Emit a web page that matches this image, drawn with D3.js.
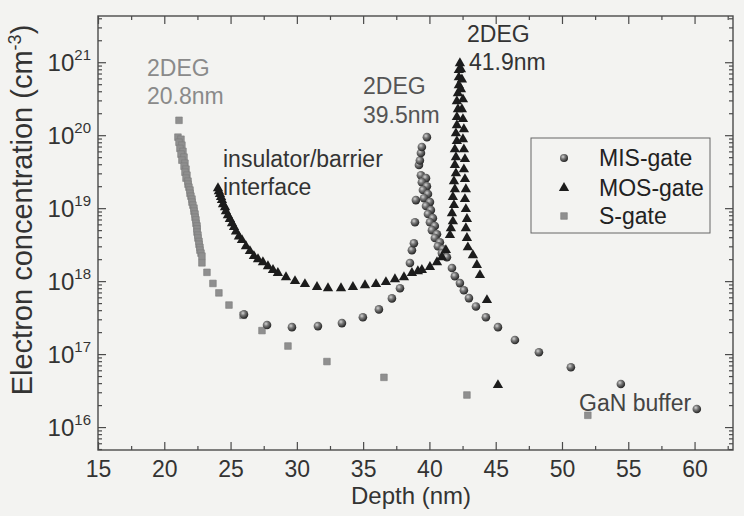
<!DOCTYPE html>
<html><head><meta charset="utf-8">
<script src="https://cdn.jsdelivr.net/npm/d3@7"></script>
<style>
body{margin:0;background:#f3f3f1;}
svg{display:block;font-family:"Liberation Sans",Arial,Helvetica,sans-serif;}
</style>
</head><body>
<svg id="c" width="744" height="516"></svg>
<script>
// ---------------- data ----------------
const seriesNames = ["MIS-gate", "MOS-gate", "S-gate"];

const misDepth = [26.01,27.75,29.63,31.59,33.40,34.98,36.19,37.17,37.78,38.53,38.68,38.83,38.91,38.98,39.21,39.28,39.36,39.43,39.81,
  39.36,39.74,39.43,39.81,39.51,39.89,39.59,40.04,39.74,40.11,39.89,40.26,40.04,40.41,40.19,40.57,40.41,40.79,40.64,41.02,40.94,41.32,
  41.70,41.92,42.30,42.60,42.98,43.51,44.26,45.17,46.45,48.26,50.67,54.44,60.17];
const misConc = [3.5e17,2.5e17,2.34e17,2.42e17,2.66e17,3.2e17,4.1e17,5.8e17,8.0e17,1.77e18,2.66e18,3.3e18,6.4e18,1.29e19,3.9e19,4.5e19,5.7e19,6.9e19,9.4e19,
  2.83e19,2.58e19,2.27e19,2.0e19,1.77e19,1.56e19,1.37e19,1.21e19,1.07e19,9.4e18,8.3e18,7.3e18,6.4e18,5.7e18,5.0e18,4.4e18,3.9e18,3.4e18,3.0e18,2.74e18,2.42e18,2.13e18,
  1.51e18,1.17e18,9.4e17,7.5e17,5.85e17,4.5e17,3.2e17,2.34e17,1.56e17,1.06e17,6.6e16,3.9e16,1.77e16];

const mosDepth = [24.05,24.12,24.20,24.28,24.35,24.43,24.58,24.65,24.80,24.95,25.11,25.26,25.41,25.63,25.86,26.16,26.46,26.76,27.07,27.44,27.82,28.20,28.57,29.18,29.86,
  30.61,31.52,32.35,33.33,34.23,35.14,35.97,36.72,37.40,38.08,38.68,39.13,39.43,40.04,40.57,40.94,41.24,
  41.55,41.62,41.77,41.70,41.85,41.77,41.92,41.85,42.00,41.92,42.00,41.92,42.07,42.00,42.07,42.07,42.15,42.07,42.15,42.22,42.22,42.22,42.30,
  42.38,42.45,42.38,42.53,42.45,42.53,42.60,42.53,42.60,42.68,42.60,42.68,42.75,42.68,42.75,42.83,42.75,
  42.83,42.90,43.28,43.58,43.81,44.34,45.17];
const mosConc = [1.88e19,1.71e19,1.56e19,1.42e19,1.29e19,1.13e19,1.03e19,9.1e18,8.0e18,7.1e18,6.2e18,5.5e18,4.8e18,4.1e18,3.65e18,3.0e18,2.58e18,2.2e18,2.0e18,1.82e18,1.6e18,1.42e18,1.29e18,1.13e18,1.0e18,
  9.1e17,8.3e17,8.0e17,8.0e17,8.3e17,8.8e17,9.1e17,9.7e17,1.06e18,1.13e18,1.29e18,1.37e18,1.42e18,1.56e18,1.82e18,2.13e18,2.66e18,
  4.27e18,5.3e18,6.6e18,8.5e18,1.10e19,1.42e19,1.82e19,2.34e19,3.0e19,3.9e19,5.0e19,6.4e19,8.3e19,1.06e20,1.37e20,1.77e20,2.27e20,2.92e20,3.76e20,4.84e20,6.2e20,7.8e20,9.7e20,
  8.0e20,5.8e20,4.27e20,3.1e20,2.27e20,1.66e20,1.21e20,8.8e19,6.4e19,4.7e19,3.4e19,2.5e19,1.82e19,1.33e19,9.7e18,7.1e18,5.3e18,
  3.9e18,2.9e18,2.27e18,1.66e18,1.21e18,5.5e17,3.76e16];

const sDepth = [21.11,21.03,21.26,21.11,21.33,21.18,21.41,21.26,21.49,21.33,21.56,21.49,21.64,21.56,21.71,21.64,21.79,21.79,21.86,21.94,21.94,22.01,22.09,22.09,22.16,22.24,
  22.24,22.32,22.32,22.39,22.39,22.47,22.47,22.47,22.54,22.54,22.62,22.62,22.69,22.69,22.77,22.84,
  22.84,23.22,23.67,24.12,24.88,25.94,27.37,29.33,32.27,36.57,42.83,51.95];
const sConc = [1.6e20,9.4e19,8.8e19,8.0e19,7.3e19,6.6e19,6.0e19,5.5e19,5.0e19,4.55e19,4.13e19,3.76e19,3.42e19,3.11e19,2.83e19,2.58e19,2.34e19,2.13e19,1.94e19,1.77e19,1.60e19,1.46e19,1.33e19,1.21e19,1.10e19,1.0e19,
  9.1e18,8.3e18,7.5e18,6.9e18,6.2e18,5.7e18,5.2e18,4.7e18,4.27e18,3.9e18,3.5e18,3.2e18,2.9e18,2.66e18,2.42e18,2.2e18,
  1.78e18,1.32e18,9.3e17,6.9e17,4.7e17,3.4e17,2.1e17,1.29e17,7.9e16,4.8e16,2.75e16,1.45e16];

const xTicks = [15,20,25,30,35,40,45,50,55,60];
const yTickExps = [16,17,18,19,20,21];

// ---------------- layout ----------------
const L = 98, R = 733, T = 16, B = 450;
const svg = d3.select("#c");
const x = d3.scaleLinear().domain([15, 62.9]).range([L, R]);
const y = d3.scaleLog().domain([4.85e15, 4.3e21]).range([B, T]);

const defs = svg.append("defs");
const grad = defs.append("radialGradient").attr("id","ball").attr("cx","38%").attr("cy","35%").attr("r","65%");
grad.append("stop").attr("offset","0%").attr("stop-color","#d4d4d4");
grad.append("stop").attr("offset","40%").attr("stop-color","#7a7a7a");
grad.append("stop").attr("offset","100%").attr("stop-color","#252525");

const axisColor = "#4a4a4a";
function styleAxis(g){
  g.select(".domain").remove();
  g.selectAll(".tick line").attr("stroke", axisColor).attr("stroke-width", 1.2);
  g.selectAll("text").attr("fill", "#333").attr("font-size", 23);
}

// minor values
const xMinor = xTicks.map(v => v + 2.5).filter(v => v < 62.9);
const yMinor = [];
for (let n = 15; n <= 21; n++) for (let k = 2; k <= 9; k++) {
  const v = k * Math.pow(10, n);
  if (v > 4.85e15 && v < 4.3e21) yMinor.push(v);
}
const yMajor = yTickExps.map(e => Math.pow(10, e));

// bottom
svg.append("g").attr("transform",`translate(0,${B})`)
  .call(d3.axisBottom(x).tickValues(xTicks).tickSizeInner(-8).tickSizeOuter(0).tickPadding(11).tickFormat(d3.format("d")))
  .call(styleAxis);
svg.append("g").attr("transform",`translate(0,${B})`)
  .call(d3.axisBottom(x).tickValues(xMinor).tickSizeInner(-4).tickSizeOuter(0).tickFormat(""))
  .call(styleAxis);
// top
svg.append("g").attr("transform",`translate(0,${T})`)
  .call(d3.axisTop(x).tickValues(xTicks).tickSizeInner(-8).tickSizeOuter(0).tickFormat(""))
  .call(styleAxis);
svg.append("g").attr("transform",`translate(0,${T})`)
  .call(d3.axisTop(x).tickValues(xMinor).tickSizeInner(-4).tickSizeOuter(0).tickFormat(""))
  .call(styleAxis);
// left
svg.append("g").attr("transform",`translate(${L},0)`)
  .call(d3.axisLeft(y).tickValues(yMajor).tickSizeInner(-8).tickSizeOuter(0).tickFormat(""))
  .call(styleAxis);
svg.append("g").attr("transform",`translate(${L},0)`)
  .call(d3.axisLeft(y).tickValues(yMinor).tickSizeInner(-4).tickSizeOuter(0).tickFormat(""))
  .call(styleAxis);
// right
svg.append("g").attr("transform",`translate(${R},0)`)
  .call(d3.axisRight(y).tickValues(yMajor).tickSizeInner(-8).tickSizeOuter(0).tickFormat(""))
  .call(styleAxis);
svg.append("g").attr("transform",`translate(${R},0)`)
  .call(d3.axisRight(y).tickValues(yMinor).tickSizeInner(-4).tickSizeOuter(0).tickFormat(""))
  .call(styleAxis);

// frame
svg.append("rect").attr("x",L).attr("y",T).attr("width",R-L).attr("height",B-T)
  .attr("fill","none").attr("stroke",axisColor).attr("stroke-width",1.4);

// y tick labels 10^n
const yl = svg.append("g");
yTickExps.forEach(e => {
  const t = yl.append("text").attr("x", 91).attr("y", y(Math.pow(10,e)) + 8.5)
    .attr("text-anchor","end").attr("fill","#333").attr("font-size",24);
  t.append("tspan").text("10");
  t.append("tspan").attr("dy",-11).attr("font-size",15).text(String(e));
});

// axis titles
svg.append("text").attr("x", 411).attr("y", 504).attr("text-anchor","middle")
  .attr("font-size",24).attr("fill","#333").text("Depth (nm)");
const yt = svg.append("text").attr("transform","translate(32,210) rotate(-90)")
  .attr("text-anchor","middle").attr("font-size",29).attr("fill","#333");
yt.append("tspan").text("Electron concentration (cm");
yt.append("tspan").attr("dy",-11).attr("font-size",18).text("-3");
yt.append("tspan").attr("dy",11).text(")");

// ---------------- marks ----------------
const sq = d3.symbol().type(d3.symbolSquare).size(44);
const tri = d3.symbol().type(d3.symbolTriangle).size(46);

const sData = sDepth.map((d,i)=>[d,sConc[i]]);
const misData = misDepth.map((d,i)=>[d,misConc[i]]);
const mosData = mosDepth.map((d,i)=>[d,mosConc[i]]);

svg.append("g").selectAll("path").data(sData).join("path")
  .attr("d", sq).attr("transform", d=>`translate(${x(d[0])},${y(d[1])})`)
  .attr("fill","#8f8f8f").attr("stroke","#7c7c7c").attr("stroke-width",0.6);

svg.append("g").selectAll("circle").data(misData).join("circle")
  .attr("cx", d=>x(d[0])).attr("cy", d=>y(d[1])).attr("r",4.3)
  .attr("fill","url(#ball)");

svg.append("g").selectAll("path").data(mosData).join("path")
  .attr("d", tri).attr("transform", d=>`translate(${x(d[0])},${y(d[1])})`)
  .attr("fill","#1c1c1c");

// ---------------- legend ----------------
const lg = svg.append("g");
lg.append("rect").attr("x",531).attr("y",138).attr("width",179).attr("height",95)
  .attr("fill","none").attr("stroke","#666").attr("stroke-width",1);
const legY = [158, 188, 216];
lg.append("circle").attr("cx",564).attr("cy",legY[0]).attr("r",4).attr("fill","url(#ball)");
lg.append("path").attr("d",tri).attr("transform",`translate(564,${legY[1]})`).attr("fill","#1c1c1c");
lg.append("path").attr("d",sq).attr("transform",`translate(564,${legY[2]})`).attr("fill","#8f8f8f").attr("stroke","#7c7c7c").attr("stroke-width",0.6);
seriesNames.forEach((n,i)=>{
  lg.append("text").attr("x",599).attr("y",legY[i]+8).attr("font-size",23).attr("fill","#222").text(n);
});

// ---------------- annotations ----------------
const ann = [
  {t:"2DEG", x:147, y:76, c:"#8a8a8a"},
  {t:"20.8nm", x:147, y:104, c:"#8a8a8a"},
  {t:"2DEG", x:363, y:94, c:"#555"},
  {t:"39.5nm", x:363, y:123, c:"#555"},
  {t:"2DEG", x:467, y:42, c:"#333"},
  {t:"41.9nm", x:469, y:70, c:"#333"},
  {t:"insulator/barrier", x:223, y:167, c:"#333"},
  {t:"interface", x:223, y:195, c:"#333"},
  {t:"GaN buffer", x:579, y:411, c:"#444"}
];
svg.append("g").selectAll("text").data(ann).join("text")
  .attr("x",d=>d.x).attr("y",d=>d.y).attr("fill",d=>d.c).attr("font-size",23).text(d=>d.t);
</script>
</body></html>
